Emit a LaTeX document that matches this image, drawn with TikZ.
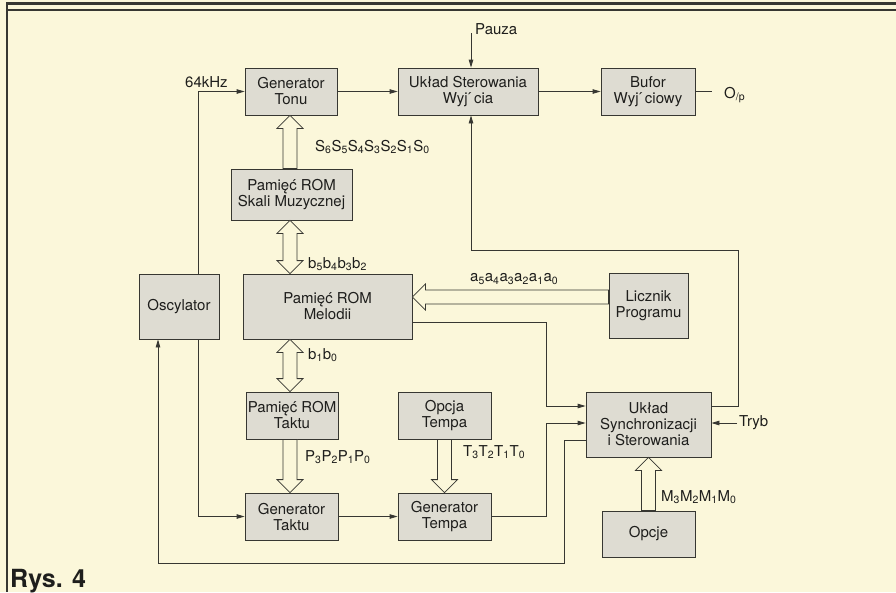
\documentclass[tikz,border=0pt]{standalone}
\usepackage{fontspec}
\setmainfont{TeX Gyre Heros}
\usetikzlibrary{calc,arrows.meta}
\definecolor{bg}{RGB}{251,247,218}
\definecolor{boxgray}{RGB}{222,220,210}
\definecolor{ink}{RGB}{55,55,50}
\definecolor{txt}{RGB}{30,30,28}
\newcommand\sbs[1]{\textsubscript{#1}}
\newcommand\accgap{\hbox to 0.42em{\hss\'{}\hss}}
\newcommand\hollowone[2]{%
  \draw[harrow] ($(#1)!7pt!90:(#2)$) -- ($(#2)!13pt!(#1)!7pt!90:(#2)$) -- ($(#2)!13pt!(#1)!13pt!90:(#2)$) -- (#2) -- ($(#2)!13pt!(#1)!13pt!-90:(#2)$) -- ($(#2)!13pt!(#1)!7pt!-90:(#2)$) -- ($(#1)!7pt!-90:(#2)$) -- cycle;}
\newcommand\hollowtwo[2]{%
  \draw[harrow] (#1) -- ($(#1)!13pt!(#2)!13pt!90:(#2)$) -- ($(#1)!13pt!(#2)!7pt!90:(#2)$) -- ($(#2)!13pt!(#1)!7pt!90:(#2)$) -- ($(#2)!13pt!(#1)!13pt!90:(#2)$) -- (#2) -- ($(#2)!13pt!(#1)!13pt!-90:(#2)$) -- ($(#2)!13pt!(#1)!7pt!-90:(#2)$) -- ($(#1)!13pt!(#2)!7pt!-90:(#2)$) -- ($(#1)!13pt!(#2)!13pt!-90:(#2)$) -- cycle;}
\begin{document}
\begin{tikzpicture}[x=1pt,y=-1pt,
  box/.style={draw=ink, fill=boxgray, line width=0.8pt, align=center, inner sep=0pt, text=txt, font=\fontsize{15}{16}\selectfont},
  lbl/.style={inner sep=0pt, anchor=west, text=txt, font=\fontsize{15}{16}\selectfont},
  conn/.style={draw=ink, line width=0.8pt},
  arr/.style={conn, -{Triangle[length=8pt,width=4.5pt]}},
  harrow/.style={draw=ink, fill=bg, line width=0.8pt, line join=miter}]
\fill[bg] (0,0) rectangle (896,592);
\useasboundingbox (0,0) rectangle (896,592);
% frame
\draw[ink, line width=2.5pt] (6,3.5) -- (896,3.5);
\draw[ink, line width=2pt] (6,10) -- (896,10);
\draw[ink, line width=2pt] (7,2.5) -- (7,592);
% boxes
\node[box, minimum width=92, minimum height=47] (tonu) at (291,91.5) {Generator\\Tonu};
\node[box, minimum width=140, minimum height=47] (ster) at (468,91.5) {Układ Sterowania\\Wyj\accgap cia};
\node[box, minimum width=94, minimum height=47] (bufor) at (648,91.5) {Bufor\\Wyj\accgap ciowy};
\node[box, minimum width=121, minimum height=51] (skali) at (291.5,194.5) {Pamięć ROM\\Skali Muzycznej};
\node[box, minimum width=80, minimum height=65] (osc) at (179,306.5) {Oscylator};
\node[box, minimum width=169, minimum height=65] (melodii) at (327.5,306.5) {Pamięć ROM\\Melodii};
\node[box, minimum width=79, minimum height=65] (licznik) at (648.5,305.5) {Licznik\\Programu};
\node[box, minimum width=92, minimum height=47] (taktrom) at (292,415.5) {Pamięć ROM\\Taktu};
\node[box, minimum width=93, minimum height=47] (opcjat) at (444.5,415.5) {Opcja\\Tempa};
\node[box, minimum width=125, minimum height=65] (sync) at (648.5,424.5) {Układ\\Synchronizacji\\i Sterowania};
\node[box, minimum width=93, minimum height=47] (gtakt) at (291.5,516.5) {Generator\\Taktu};
\node[box, minimum width=93, minimum height=47] (gtempa) at (444.5,516.5) {Generator\\Tempa};
\node[box, minimum width=93, minimum height=46] (opcje) at (648.5,534) {Opcje};
% helper coordinates
\coordinate (k64) at (198,0);
\coordinate (pz) at (471,33);
\coordinate (fb) at (738,250);
\coordinate (y406) at (0,406);
\coordinate (y423) at (0,423);
\coordinate (y440) at (0,440);
\coordinate (y322) at (0,322);
\coordinate (xm) at (546,0);
\coordinate (xr) at (564,563);
\coordinate (xl) at (158,563);
\coordinate (opend) at (712,91.5);
\coordinate (tryb) at (737,423);
\coordinate (col) at (290,0);
\coordinate (ya) at (0,297);
% thin connectors
\draw[arr] (osc.north -| k64) |- (tonu.west);
\draw[arr] (tonu.east) -- (ster.west);
\draw[arr] (ster.east) -- (bufor.west);
\draw[conn] (bufor.east) -- (opend);
\draw[arr] (pz) -- (ster.north -| pz);
\draw[arr] (sync.east |- y406) -| (fb) -| (ster.south -| pz);
\draw[arr] (tryb) -- (sync.east |- tryb);
\draw[arr] (melodii.east |- y322) -| (xm |- y406) -- (sync.west |- y406);
\draw[arr] (gtempa.east) -| (xm |- y423) -- (sync.west |- y423);
\draw[arr] (sync.west |- y440) -| (xr) -- (xl) -- (osc.south -| xl);
\draw[arr] (osc.south -| k64) |- (gtakt.west);
\draw[arr] (gtakt.east) -- (gtempa.west);
% hollow bus arrows
\hollowone{skali.north -| col}{tonu.south -| col}
\hollowtwo{skali.south -| col}{melodii.north -| col}
\hollowtwo{melodii.south -| col}{taktrom.north -| col}
\hollowone{taktrom.south -| col}{gtakt.north -| col}
\hollowone{opcjat.south}{gtempa.north}
\hollowone{opcje.north}{sync.south}
\hollowone{licznik.west |- ya}{melodii.east |- ya}
% labels
\node[lbl] (l64) at (185,82) {64kHz};
\node[lbl] (lpauza) at (475,29) {Pauza};
\node[lbl] (lop) at (724,95) {O\sbs{/p}};
\node[lbl] (ltryb) at (739,423) {Tryb};
\node[lbl] (ls) at (315,147) {S\sbs{6}S\sbs{5}S\sbs{4}S\sbs{3}S\sbs{2}S\sbs{1}S\sbs{0}};
\node[lbl] (lb1) at (308,264) {b\sbs{5}b\sbs{4}b\sbs{3}b\sbs{2}};
\node[lbl] (lb2) at (308,355) {b\sbs{1}b\sbs{0}};
\node[lbl] (la) at (470,279) {a\sbs{5}a\sbs{4}a\sbs{3}a\sbs{2}a\sbs{1}a\sbs{0}};
\node[lbl] (lp) at (305,457) {P\sbs{3}P\sbs{2}P\sbs{1}P\sbs{0}};
\node[lbl] (lt) at (463,452) {T\sbs{3}T\sbs{2}T\sbs{1}T\sbs{0}};
\node[lbl] (lm) at (661,497) {M\sbs{3}M\sbs{2}M\sbs{1}M\sbs{0}};
\node[anchor=base west, inner sep=0pt, text=txt, font=\bfseries\fontsize{25}{25}\selectfont] (rys) at (10,587) {Rys. 4};
\end{tikzpicture}
\end{document}
